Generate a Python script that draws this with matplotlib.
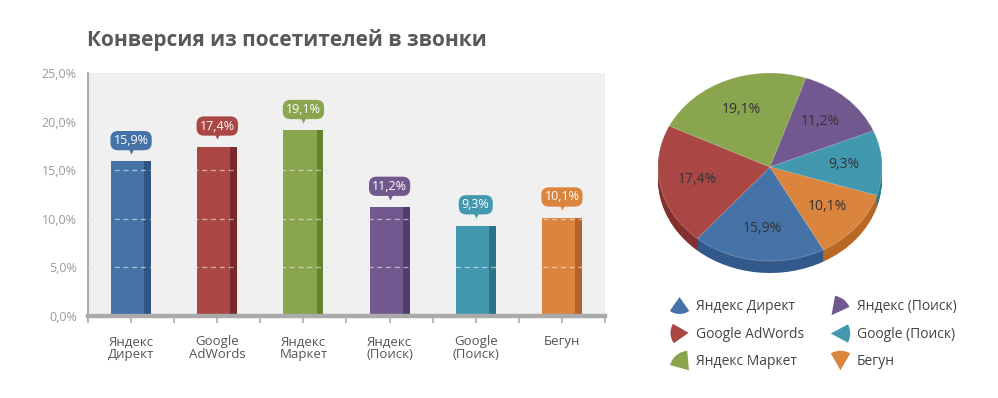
import matplotlib
matplotlib.use("Agg")
import matplotlib.pyplot as plt
import matplotlib.transforms as mtransforms
from matplotlib.lines import Line2D
from matplotlib.path import Path
import numpy as np

plt.rcParams['font.family'] = ['Open Sans', 'DejaVu Sans']

title = 'Конверсия из посетителей в звонки'
categories = ['Яндекс\nДирект', 'Google\nAdWords', 'Яндекс\nМаркет', 'Яндекс\n(Поиск)', 'Google\n(Поиск)', 'Бегун']
legend_names = ['Яндекс Директ', 'Google AdWords', 'Яндекс Маркет', 'Яндекс (Поиск)', 'Google (Поиск)', 'Бегун']
values = [15.9, 17.4, 19.1, 11.2, 9.3, 10.1]
y_ticks = [0, 5, 10, 15, 20, 25]
y_tick_labels = ['0,0%', '5,0%', '10,0%', '15,0%', '20,0%', '25,0%']

colors = ['#4572a7', '#aa4643', '#89a54e', '#71588f', '#4198af', '#db843d']
dark = ['#2e5583', '#7a2a28', '#66822f', '#4f3c6b', '#2a7489', '#b4632a']
side = ['#33598a', '#822f2d', '#6a8735', '#553f72', '#2c7b90', '#b96725']

def fmt(v):
    return f'{v:.1f}'.replace('.', ',') + '%'

W, H = 998, 398
fig = plt.figure(figsize=(W / 100, H / 100), dpi=100)
fig.patch.set_facecolor('white')

# ---------- bar chart ----------
ax = fig.add_axes([88 / W, 1 - 316 / H, 517 / W, 243 / H])
ax.set_facecolor('#f0f0f0')
x = np.arange(len(values))
bw = 0.465
sw = 0.08
ax.bar(x, values, width=bw, color=colors, zorder=2)
ax.bar(x + bw / 2 - sw / 2, values, width=sw, color=dark, zorder=2.1)
ax.set_xlim(-0.5, len(values) - 0.5)
ax.set_ylim(0, 25)

for yv in y_ticks[1:]:
    ax.axhline(yv, color='#d6d6d6', lw=0.9, ls=(0, (4, 3)), zorder=1)
    ax.axhline(yv, color='white', lw=0.9, ls=(0, (4, 3)), alpha=0.55, zorder=3)

ax.axhline(0, color='#aaaaaa', lw=3.2, zorder=4, clip_on=False)

for s in ['top', 'right', 'bottom']:
    ax.spines[s].set_visible(False)
ax.spines['left'].set_color('#aaaaaa')
ax.spines['left'].set_linewidth(1.5)

ax.set_yticks(y_ticks)
ax.set_yticklabels(y_tick_labels, color='#9a9a9a', fontsize=9)
ax.tick_params(axis='y', length=0, pad=8)
ax.set_xticks(x)
ax.set_xticklabels(categories, color='#555555', fontsize=9.5, linespacing=0.95)
ax.set_xticks(np.arange(-0.5, len(values), 1.0), minor=True)
ax.tick_params(axis='x', which='both', length=5, color='#aaaaaa', width=1.2, pad=9)

for i, v in enumerate(values):
    ax.annotate(fmt(v), xy=(x[i], v), xytext=(0, 15), textcoords='offset points',
                ha='center', va='center', color='white', fontsize=9,
                bbox=dict(boxstyle='round,pad=0.25,rounding_size=0.6', fc=colors[i], ec='none'),
                zorder=6)
    tr = mtransforms.offset_copy(ax.transData, fig=fig, x=0, y=7.5, units='points')
    ax.plot([x[i]], [v], marker='v', ms=5, color=colors[i], mec='none', transform=tr,
            zorder=6, clip_on=False)

fig.text(87 / W, 1 - 40 / H, title, fontsize=15, fontweight='bold', color='#595959',
         ha='left', va='center')

# ---------- pie chart ----------
cx, cy, rx, ry = 770, 167, 112, 94
pw, ph_top, ph_bot = 130, 110, 120
pax = fig.add_axes([(cx - pw) / W, 1 - (cy + ph_bot) / H, 2 * pw / W, (ph_top + ph_bot) / H])
depth = 12 / ry
for d in np.linspace(depth, 0.005, 14):
    pax.pie(values, colors=side, startangle=-61.5, counterclock=False,
            center=(0, -d), radius=1.0, wedgeprops=dict(linewidth=0))
wedges, _ = pax.pie(values, colors=colors, startangle=-61.5, counterclock=False,
                    center=(0, 0), radius=1.0,
                    wedgeprops=dict(linewidth=0.6, edgecolor=(1, 1, 1, 0.25)))
pax.set_aspect('auto')
pax.set_xlim(-pw / rx, pw / rx)
pax.set_ylim(-ph_bot / ry, ph_top / ry)
pax.axis('off')
for w, v in zip(wedges, values):
    ang = np.deg2rad((w.theta1 + w.theta2) / 2)
    pax.text(0.66 * np.cos(ang), 0.66 * np.sin(ang), fmt(v), ha='center', va='center',
             fontsize=10, color='#333333')

def marker_path(t1, t2):
    p = Path.wedge(t1, t2)
    verts = p.vertices.copy()
    c = (verts.min(axis=0) + verts.max(axis=0)) / 2
    return Path(verts - c, p.codes)

marker_angles = [(235, 305), (150, 215), (95, 165), (25, 80), (-28, 28), (60, 120)]
handles = [Line2D([], [], ls='none', marker=marker_path(*a), ms=14, color=c, mec='none')
           for a, c in zip(marker_angles, colors)]
leg = fig.legend(handles, legend_names, ncol=2, loc='center', bbox_to_anchor=(813 / W, 1 - 334 / H),
                 frameon=False, fontsize=10, labelcolor='#444444', handletextpad=0.5,
                 columnspacing=1.9, labelspacing=0.9, handlelength=1.4)

fig.savefig('out.png', dpi=100, facecolor='white')
